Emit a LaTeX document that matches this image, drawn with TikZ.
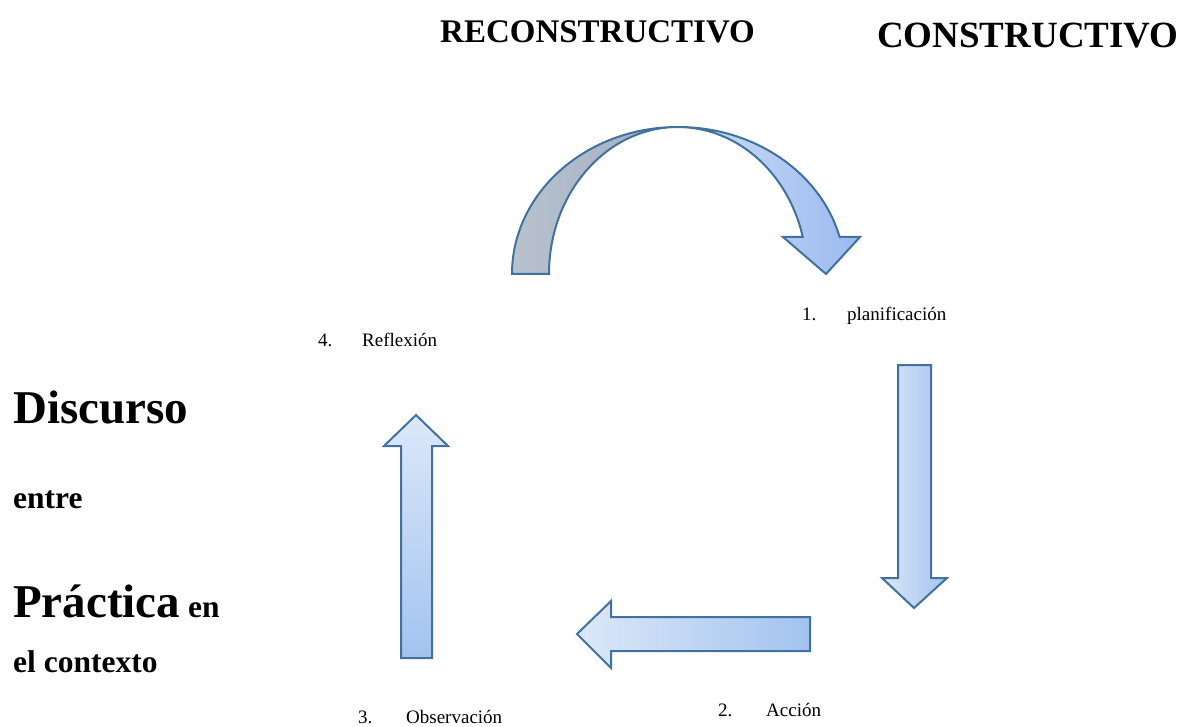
\documentclass[tikz,border=0pt]{standalone}
\usepackage{fontspec}
\setmainfont{Liberation Serif}
\definecolor{edgeblue}{HTML}{41719C}
\definecolor{lightblue}{HTML}{DCE8F9}
\definecolor{midblue}{HTML}{A2C3EF}
\definecolor{lightgray}{HTML}{B8C2CE}
\definecolor{midgray}{HTML}{A0AEC0}
\tikzset{
  arrowshape/.style={draw=edgeblue, line width=2pt, line join=miter},
  lbl/.style={anchor=base west, inner sep=0pt, font=\fontsize{19}{22}\selectfont},
  headtxt/.style={anchor=base west, inner sep=0pt},
}
\newcommand{\numlbl}[2]{\makebox[#1][l]{#2}}
\begin{document}
\begin{tikzpicture}[x=1pt,y=1pt]
\useasboundingbox (0,0) rectangle (1183,-727);
% curved arrow: back (gray) band
\draw[arrowshape, left color=lightgray, right color=midgray]
  (512,-274) arc[start angle=180, end angle=90, x radius=166, y radius=147]
  arc[start angle=90, end angle=180, x radius=129, y radius=147] -- cycle;
% curved arrow: front (blue) band with head
\draw[arrowshape, left color=lightblue!80!midblue, right color=midblue!95!blue]
  (678,-127) arc[start angle=90, end angle=14.6, x radius=167, y radius=147]
  -- (860,-237) -- (826,-274) -- (783,-237) -- (802.8,-237)
  arc[start angle=14.6, end angle=90, x radius=129, y radius=147] -- cycle;
% down arrow
\draw[arrowshape, left color=lightblue, right color=midblue]
  (898,-365) -- (931,-365) -- (931,-578) -- (947,-578) -- (914,-608)
  -- (882,-578) -- (898,-578) -- cycle;
% left arrow
\draw[arrowshape, left color=lightblue, right color=midblue]
  (810,-617) -- (810,-651) -- (611,-651) -- (611,-668) -- (577,-634)
  -- (611,-601) -- (611,-617) -- cycle;
% up arrow
\draw[arrowshape, top color=lightblue, bottom color=midblue]
  (401,-658) -- (401,-446) -- (384,-446) -- (416,-415) -- (448,-446)
  -- (432,-446) -- (432,-658) -- cycle;
% headings
\node[headtxt, font=\bfseries\fontsize{33}{38}\selectfont] (recon) at (440,-43) {RECONSTRUCTIVO};
\node[headtxt, font=\bfseries\fontsize{37}{42}\selectfont] (con) at (877,-48) {CONSTRUCTIVO};
% left texts
\node[headtxt, font=\bfseries\fontsize{47}{52}\selectfont] (disc) at (13,-423) {Discurso};
\node[headtxt, font=\bfseries\fontsize{31.5}{36}\selectfont] (entre) at (13,-508) {entre};
\node[headtxt, font=\bfseries\fontsize{47}{52}\selectfont] (prac) at (13,-617) {Práctica{\fontsize{31.5}{36}\selectfont{} en}};
\node[headtxt, font=\bfseries\fontsize{31.5}{36}\selectfont] (ctx) at (13,-672) {el contexto};
% step labels
\node[lbl] (plan) at (802,-320) {\numlbl{45pt}{1.}planificación};
\node[lbl] (refl) at (318,-346) {\numlbl{44pt}{4.}Reflexión};
\node[lbl] (obs) at (358,-723) {\numlbl{48pt}{3.}Observación};
\node[lbl] (acc) at (718,-716) {\numlbl{48pt}{2.}Acción};
\end{tikzpicture}
\end{document}
